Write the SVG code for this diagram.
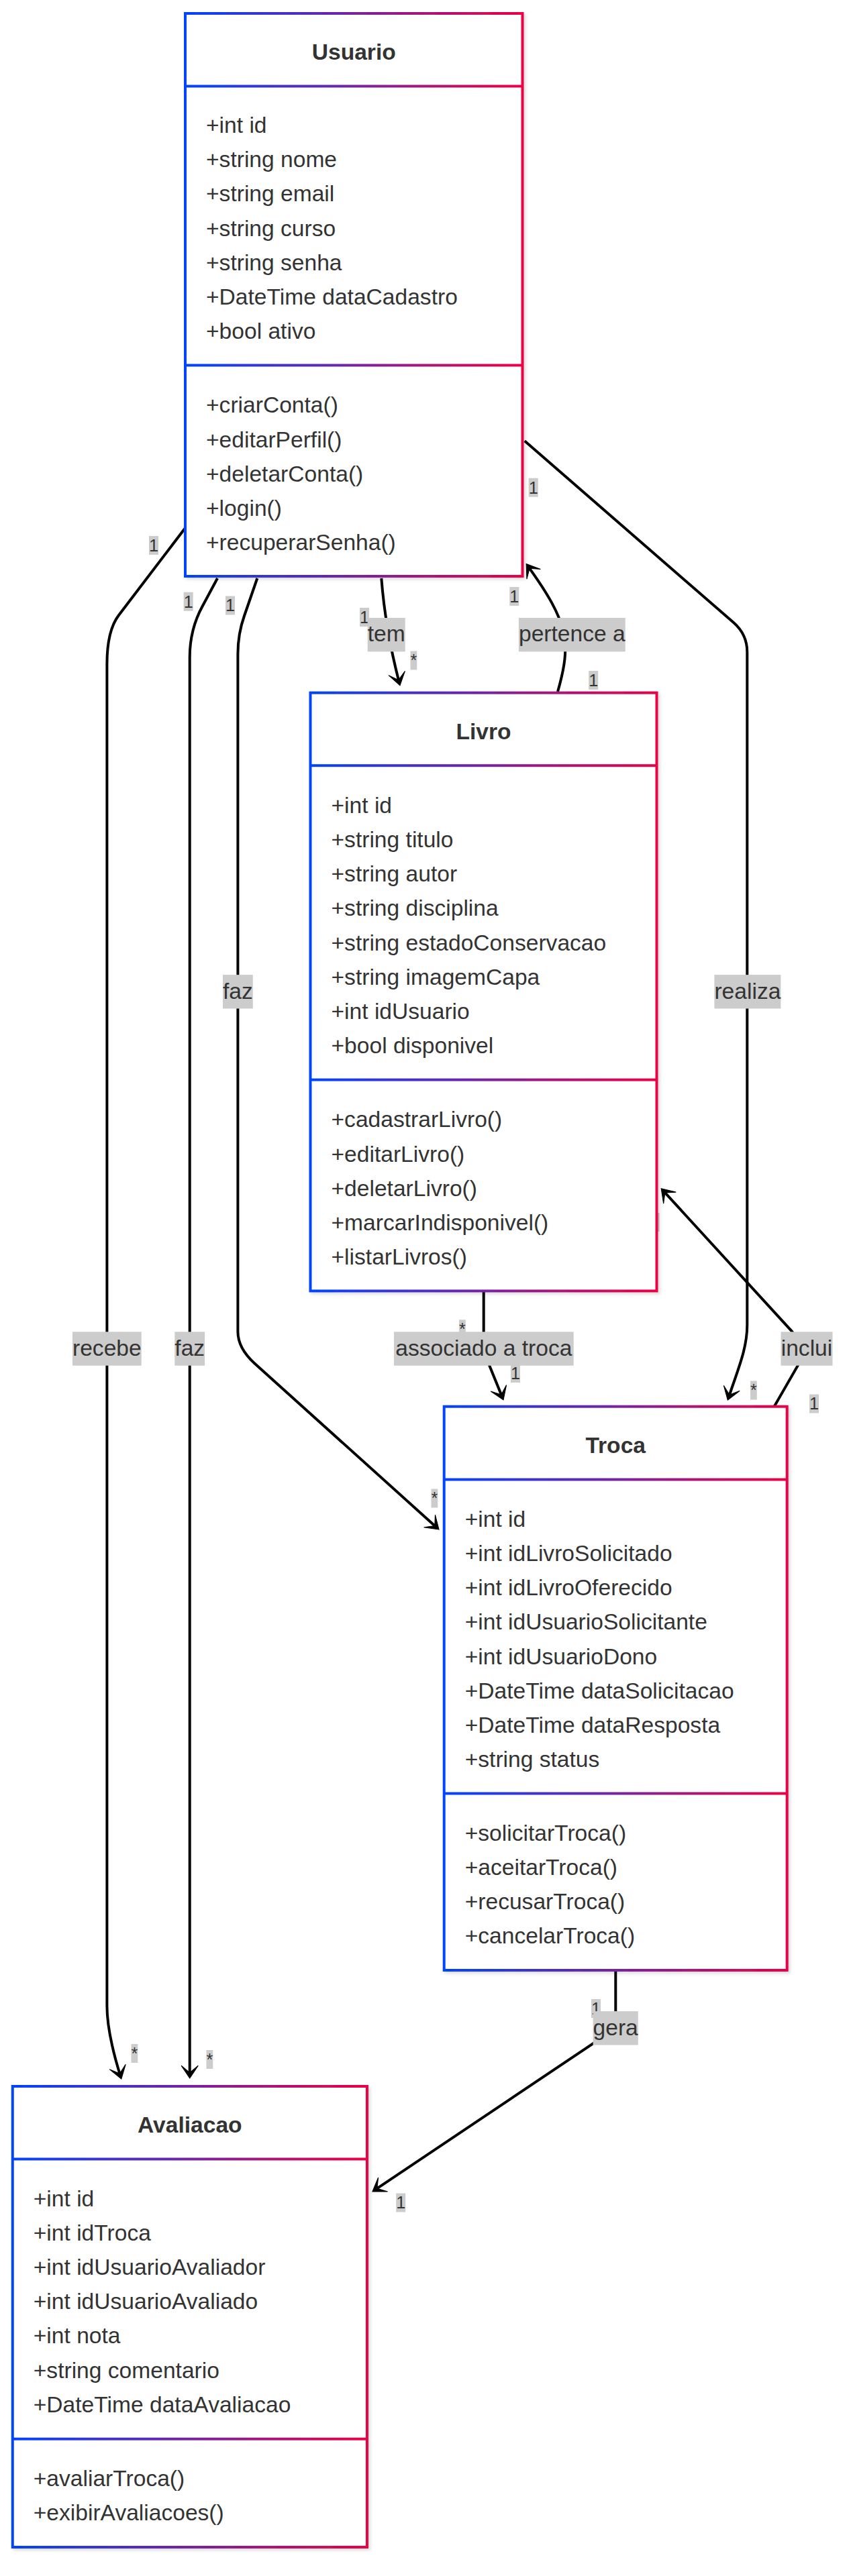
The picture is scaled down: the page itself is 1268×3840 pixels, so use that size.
<svg xmlns="http://www.w3.org/2000/svg" width="1268" height="3840" viewBox="0 0 1268 3840">
<defs>
<linearGradient id="grad" x1="0" y1="0" x2="1" y2="0">
<stop offset="0" stop-color="#0044ff"/>
<stop offset="1" stop-color="#ee0044"/>
</linearGradient>
<filter id="shadow" x="-5%" y="-5%" width="115%" height="115%">
<feDropShadow dx="3" dy="3" stdDeviation="2" flood-color="#000" flood-opacity="0.13"/>
</filter>
<marker id="dep" viewBox="0 0 20 14" refX="15.6" refY="7" markerWidth="42" markerHeight="29.4" markerUnits="userSpaceOnUse" orient="auto">
<path d="M18,7 L9,13 L14,7 L9,1 Z" fill="#000" stroke="#000" stroke-width="0.5"/>
</marker>
<style>
.edge{fill:none;stroke:#000;stroke-width:4;marker-end:url(#dep)}
.box{fill:#fff;stroke:url(#grad);stroke-width:4;filter:url(#shadow)}
.div{fill:url(#grad)}
.t{font-family:"Liberation Sans",Arial,sans-serif;font-size:33.6px;fill:#333}
.title{font-family:"Liberation Sans",Arial,sans-serif;font-size:33.6px;font-weight:bold;fill:#333;text-anchor:middle}
.lbg{fill:#cccccc}
.lt{font-family:"Liberation Sans",Arial,sans-serif;font-size:33.6px;fill:#333;text-anchor:middle}
.ct{font-family:"Liberation Sans",Arial,sans-serif;font-size:25.2px;fill:#333;text-anchor:middle}
</style>
</defs>
<rect width="1268" height="3840" fill="#fff"/>

<g id="connectors">
<path class="edge" d="M 276 787 L 177 917 Q 159.4 940 159.4 990 L 159.4 2990 Q 159.4 3030 179.3 3094.2"/>
<path class="edge" d="M 324 862 L 302 903 Q 282.7 938 282.7 980 L 282.7 3093"/>
<path class="edge" d="M 383.3 862 L 364 918 Q 354.4 945 354.4 975 L 354.4 1985 Q 354.4 2010 380 2033 L 650.3 2276.7"/>
<path class="edge" d="M 568.3 862 C 572 910 580 960 594.7 1016.9"/>
<path class="edge" d="M 831 1031 C 852 958 847 928 787.1 844.6"/>
<path class="edge" d="M 781.7 657.3 L 1093.3 928.3 Q 1113.3 946 1113.3 972 L 1113.3 1975 C 1113.3 2010 1100 2040 1085.9 2082.4"/>
<path class="edge" d="M 720.7 1924 L 720.7 1990 Q 721 2015 729.3 2035.7 L 748.1 2082.1"/>
<path class="edge" d="M 1154 2096 L 1188.7 2035.7 Q 1200 2010 1179.7 1984.3 L 988.6 1775.4"/>
<path class="edge" d="M 917.3 2937 L 917.3 3000 Q 917.3 3025 890 3042 L 559.1 3264.2"/>

<g id="cardinalities">
<rect class="lbg" x="222" y="799" width="14" height="28"/><text class="ct" x="229" y="821.8">1</text>
<rect class="lbg" x="273.7" y="882.7" width="14" height="28"/><text class="ct" x="280.7" y="905.5">1</text>
<rect class="lbg" x="336" y="888.5" width="14" height="28"/><text class="ct" x="343" y="911.3">1</text>
<rect class="lbg" x="536" y="906" width="14" height="28"/><text class="ct" x="543" y="928.8">1</text>
<rect class="lbg" x="611.5" y="970.5" width="9.8" height="28"/><text class="ct" x="616.4" y="993.3">*</text>
<rect class="lbg" x="759.3" y="875" width="14" height="28"/><text class="ct" x="766.3" y="897.8">1</text>
<rect class="lbg" x="877.2" y="1000" width="14" height="28"/><text class="ct" x="884.2" y="1022.8">1</text>
<rect class="lbg" x="787.7" y="712.7" width="14" height="28"/><text class="ct" x="794.7" y="735.5">1</text>
<rect class="lbg" x="1118" y="2058.5" width="9.8" height="28"/><text class="ct" x="1122.9" y="2081.3">*</text>
<rect class="lbg" x="1206" y="2078.5" width="14" height="28"/><text class="ct" x="1213" y="2101.3">1</text>
<rect class="lbg" x="972.5" y="1808" width="10" height="28"/>
<rect class="lbg" x="684" y="1967.3" width="9.8" height="28"/><text class="ct" x="688.9" y="1990.1">*</text>
<rect class="lbg" x="761" y="2033" width="14" height="28"/><text class="ct" x="768" y="2055.8">1</text>
<rect class="lbg" x="642.5" y="2219.5" width="9.8" height="28"/><text class="ct" x="647.4" y="2242.3">*</text>
<rect class="lbg" x="881" y="2980" width="14" height="28"/><text class="ct" x="888" y="3002.8">1</text>
<rect class="lbg" x="590.2" y="3269.5" width="14" height="28"/><text class="ct" x="597.2" y="3292.3">1</text>
<rect class="lbg" x="195.5" y="3047" width="9.8" height="28"/><text class="ct" x="200.4" y="3069.8">*</text>
<rect class="lbg" x="307.5" y="3056" width="9.8" height="28"/><text class="ct" x="312.4" y="3078.8">*</text>
</g>

<g id="edge-labels">
<rect class="lbg" x="547.7" y="921" width="56" height="50.4"/><text class="lt" x="575.7" y="956.4">tem</text>
<rect class="lbg" x="772.9" y="921" width="158.8" height="50.4"/><text class="lt" x="852.3" y="956.4">pertence a</text>
<rect class="lbg" x="1064.4" y="1453.1" width="99" height="50.4"/><text class="lt" x="1113.9" y="1488.5">realiza</text>
<rect class="lbg" x="332" y="1453.1" width="44.8" height="50.4"/><text class="lt" x="354.4" y="1488.5">faz</text>
<rect class="lbg" x="108" y="1985.3" width="102.7" height="50.4"/><text class="lt" x="159.35" y="2020.7">recebe</text>
<rect class="lbg" x="260.3" y="1985.3" width="44.8" height="50.4"/><text class="lt" x="282.7" y="2020.7">faz</text>
<rect class="lbg" x="587" y="1985.3" width="267.7" height="50.4"/><text class="lt" x="720.85" y="2020.7">associado a troca</text>
<rect class="lbg" x="1163.5" y="1985.3" width="77" height="50.4"/><text class="lt" x="1202" y="2020.7">inclui</text>
<rect class="lbg" x="883.6" y="2998.1" width="67.2" height="50.4"/><text class="lt" x="917.2" y="3033.5">gera</text>
</g>
</g>

<g id="Usuario">
<rect class="box" x="276" y="20" width="502.5" height="839"/>
<rect class="div" x="276" y="126.5" width="502.5" height="4"/>
<rect class="div" x="276" y="542.5" width="502.5" height="4"/>
<text class="title" x="527.25" y="89">Usuario</text>
<text class="t" x="307" y="198">+int id</text>
<text class="t" x="307" y="249.2">+string nome</text>
<text class="t" x="307" y="300.4">+string email</text>
<text class="t" x="307" y="351.6">+string curso</text>
<text class="t" x="307" y="402.8">+string senha</text>
<text class="t" x="307" y="454">+DateTime dataCadastro</text>
<text class="t" x="307" y="505.2">+bool ativo</text>
<text class="t" x="307" y="615.4">+criarConta()</text>
<text class="t" x="307" y="666.6">+editarPerfil()</text>
<text class="t" x="307" y="717.8">+deletarConta()</text>
<text class="t" x="307" y="769">+login()</text>
<text class="t" x="307" y="820.2">+recuperarSenha()</text>
</g>

<g id="Livro">
<rect class="box" x="462.5" y="1032.7" width="516" height="891.7"/>
<rect class="div" x="462.5" y="1139.2" width="516" height="4"/>
<rect class="div" x="462.5" y="1607.6" width="516" height="4"/>
<text class="title" x="720.5" y="1101.7">Livro</text>
<text class="t" x="493.5" y="1211.7">+int id</text>
<text class="t" x="493.5" y="1262.9">+string titulo</text>
<text class="t" x="493.5" y="1314.1">+string autor</text>
<text class="t" x="493.5" y="1365.3">+string disciplina</text>
<text class="t" x="493.5" y="1416.5">+string estadoConservacao</text>
<text class="t" x="493.5" y="1467.7">+string imagemCapa</text>
<text class="t" x="493.5" y="1518.9">+int idUsuario</text>
<text class="t" x="493.5" y="1570.1">+bool disponivel</text>
<text class="t" x="493.5" y="1680.3">+cadastrarLivro()</text>
<text class="t" x="493.5" y="1731.5">+editarLivro()</text>
<text class="t" x="493.5" y="1782.7">+deletarLivro()</text>
<text class="t" x="493.5" y="1833.9">+marcarIndisponivel()</text>
<text class="t" x="493.5" y="1885.1">+listarLivros()</text>
</g>

<g id="Troca">
<rect class="box" x="661.7" y="2096.7" width="511" height="840.3"/>
<rect class="div" x="661.7" y="2203.5" width="511" height="4"/>
<rect class="div" x="661.7" y="2671.5" width="511" height="4"/>
<text class="title" x="917.2" y="2166">Troca</text>
<text class="t" x="692.7" y="2275.7">+int id</text>
<text class="t" x="692.7" y="2326.9">+int idLivroSolicitado</text>
<text class="t" x="692.7" y="2378.1">+int idLivroOferecido</text>
<text class="t" x="692.7" y="2429.3">+int idUsuarioSolicitante</text>
<text class="t" x="692.7" y="2480.5">+int idUsuarioDono</text>
<text class="t" x="692.7" y="2531.7">+DateTime dataSolicitacao</text>
<text class="t" x="692.7" y="2582.9">+DateTime dataResposta</text>
<text class="t" x="692.7" y="2634.1">+string status</text>
<text class="t" x="692.7" y="2743.5">+solicitarTroca()</text>
<text class="t" x="692.7" y="2794.7">+aceitarTroca()</text>
<text class="t" x="692.7" y="2845.9">+recusarTroca()</text>
<text class="t" x="692.7" y="2897.1">+cancelarTroca()</text>
</g>

<g id="Avaliacao">
<rect class="box" x="18.75" y="3110" width="528.2" height="687"/>
<rect class="div" x="18.75" y="3216.5" width="528.2" height="4"/>
<rect class="div" x="18.75" y="3633.7" width="528.2" height="4"/>
<text class="title" x="282.85" y="3179">Avaliacao</text>
<text class="t" x="49.75" y="3288.5">+int id</text>
<text class="t" x="49.75" y="3339.7">+int idTroca</text>
<text class="t" x="49.75" y="3390.9">+int idUsuarioAvaliador</text>
<text class="t" x="49.75" y="3442.1">+int idUsuarioAvaliado</text>
<text class="t" x="49.75" y="3493.3">+int nota</text>
<text class="t" x="49.75" y="3544.5">+string comentario</text>
<text class="t" x="49.75" y="3595.7">+DateTime dataAvaliacao</text>
<text class="t" x="49.75" y="3705.7">+avaliarTroca()</text>
<text class="t" x="49.75" y="3756.9">+exibirAvaliacoes()</text>
</g>
</svg>
